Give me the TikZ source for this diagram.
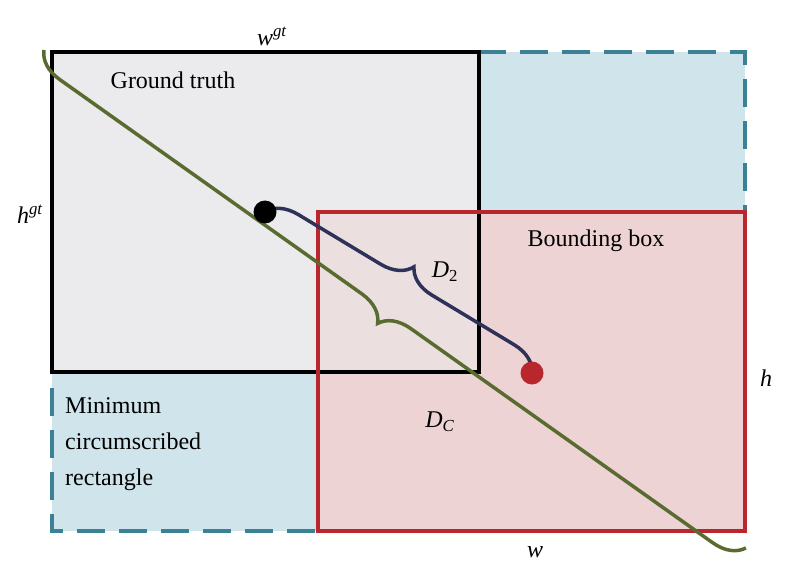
\documentclass[tikz,border=0pt]{standalone}
\usepackage{fontspec}
\setmainfont{Liberation Serif}
\usetikzlibrary{decorations.pathreplacing,positioning}
\definecolor{colblue}{HTML}{3B8196}
\definecolor{colbluefill}{HTML}{D0E5EB}
\definecolor{colgray}{HTML}{EBEBED}
\definecolor{colred}{HTML}{B8262E}
\definecolor{colpink}{HTML}{EDD3D3}
\definecolor{colnavy}{HTML}{2E3158}
\definecolor{colgreen}{HTML}{5A6B30}
\newcommand{\ivar}[1]{\textit{#1}}
\begin{document}
\begin{tikzpicture}[x=1pt,y=-1pt,
  lbl/.style={font=\fontsize{24}{36}\selectfont, inner sep=1pt},
  dot/.style={circle, minimum size=23pt, inner sep=0pt},
  brc/.style={line width=3.5pt, decorate, decoration={brace, amplitude=30pt, aspect=0.5}}
]
  \useasboundingbox (0,0) rectangle (802,577);
  % outer rectangle
  \fill[colbluefill] (52,52) rectangle (745,531);
  \draw[colblue, line width=4pt, dash pattern=on 28pt off 14pt] (52,52) rectangle (745,531);
  % ground truth and bounding box
  \fill[colgray] (52,52) rectangle (479,372);
  \fill[colpink] (318,212) rectangle (745,531);
  \fill[colgray!50!colpink] (318,212) rectangle (479,372);
  \draw[black, line width=4pt] (52,52) rectangle (479,372);
  \draw[colred, line width=4pt] (318,212) rectangle (745,531);
  % centres
  \coordinate (tl) at (44,50);
  \coordinate (br) at (746,548);
  \coordinate (pgt) at (265,212);
  \coordinate (pbb) at (532,373);
  \draw[colnavy, brc] (pgt) -- (pbb);
  \draw[colgreen, brc, decoration={mirror}] (tl) -- (br);
  \node[dot, fill=black] (cgt) at (pgt) {};
  \node[dot, fill=colred] (cbb) at (pbb) {};
  % labels
  \node[lbl] (gt) at (173,80) {Ground truth};
  \node[lbl] (bb) at (596,241) {Bounding box};
  \node[lbl, align=left, anchor=west] (mcr) at (64,444) {Minimum\\circumscribed\\rectangle};
  \node[lbl] (wgt) at (272,36) {\ivar{w}\textsuperscript{\ivar{gt}}};
  \node[lbl] (hgt) at (30,214) {\ivar{h}\textsuperscript{\ivar{gt}}};
  \node[lbl] (hh) at (766,378) {\ivar{h}};
  \node[lbl] (ww) at (535,552) {\ivar{w}};
  \node[lbl] (d2) at (445,272) {\ivar{D}\textsubscript{2}};
  \node[lbl] (dc) at (440,422) {\ivar{D}\textsubscript{\ivar{C}}};
\end{tikzpicture}
\end{document}
